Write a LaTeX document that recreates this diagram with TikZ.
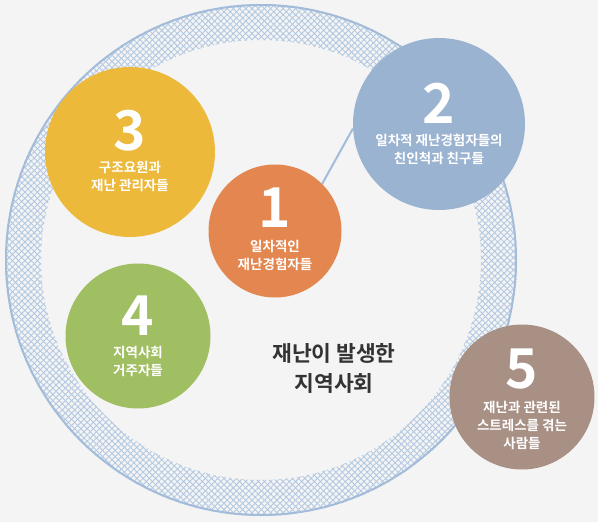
\documentclass[tikz,border=0pt]{standalone}
\usepackage{fontspec}
\newfontfamily\kr{Noto Sans CJK KR}[BoldFont={Noto Sans CJK KR Bold}]
\usetikzlibrary{patterns.meta}
\definecolor{bg}{HTML}{F4F4F4}
\definecolor{ringline}{HTML}{A3BCDA}
\definecolor{hatch}{HTML}{B3C8E2}
\definecolor{cyellow}{HTML}{ECB93A}
\definecolor{corange}{HTML}{E3864F}
\definecolor{cblue}{HTML}{9AB3D1}
\definecolor{cgreen}{HTML}{A0BE62}
\definecolor{cbrown}{HTML}{A89085}
\definecolor{dark}{HTML}{333333}
\tikzset{
  ball/.style={circle, inner sep=0pt, minimum size=#1},
  num/.style={anchor=base, text=white, font=\kr\bfseries\fontsize{55}{55}\selectfont},
  lab/.style={align=center, text=white, font=\kr\bfseries\fontsize{13.5}{18}\selectfont, inner sep=0pt},
  hatchA/.style={pattern={Lines[angle=45,distance=4.4pt,line width=0.9pt]}, pattern color=hatch},
  hatchB/.style={pattern={Lines[angle=-45,distance=4.4pt,line width=0.9pt]}, pattern color=hatch},
}
\begin{document}
\begin{tikzpicture}[x=1pt,y=-1pt]
\fill[bg] (0,0) rectangle (598,522);
\useasboundingbox (0,0) rectangle (598,522);
\coordinate (big) at (261,260);
% hatched fading ring
\foreach \ro/\ri/\op in {256/232/0.9, 232/226/0.55, 226/220/0.25}{
  \fill[hatchA, even odd rule, fill opacity=\op] (big) circle[radius=\ro pt] (big) circle[radius=\ri pt];
  \fill[hatchB, even odd rule, fill opacity=\op] (big) circle[radius=\ro pt] (big) circle[radius=\ri pt];
}
\draw[ringline, line width=2pt] (big) circle[radius=255pt];
% circles
\node[ball=170pt, fill=cyellow] (c3) at (130,152) {};
\node[ball=133pt, fill=corange] (c1) at (275,231) {};
\node[ball=172pt, fill=cblue] (c2) at (439,124) {};
\node[ball=145pt, fill=cgreen] (c4) at (138,336) {};
\node[ball=145pt, fill=cbrown] (c5) at (522,397) {};
\draw[ringline, line width=2pt] (c1.45) -- (c2.183);
% numbers
\node[num] (n3) at (130,150) {3};
\node[num] (n1) at (275,227) {1};
\node[num] (n2) at (439,123) {2};
\node[num] (n4) at (138,335) {4};
\node[num] (n5) at (522,388) {5};
% labels
\node[lab] (l3) at (130,176) {구조요원과\\재난 관리자들};
\node[lab] (l1) at (275,255) {일차적인\\재난경험자들};
\node[lab] (l2) at (439,149) {일차적 재난경험자들의\\친인척과 친구들};
\node[lab] (l4) at (138,361) {지역사회\\거주자들};
\node[lab] (l5) at (522,425) {재난과 관련된\\스트레스를 겪는\\사람들};
\node[align=center, text=dark, inner sep=0pt, font=\kr\bfseries\fontsize{21.5}{30}\selectfont] (t) at (334,368) {재난이 발생한\\지역사회};
\end{tikzpicture}
\end{document}
